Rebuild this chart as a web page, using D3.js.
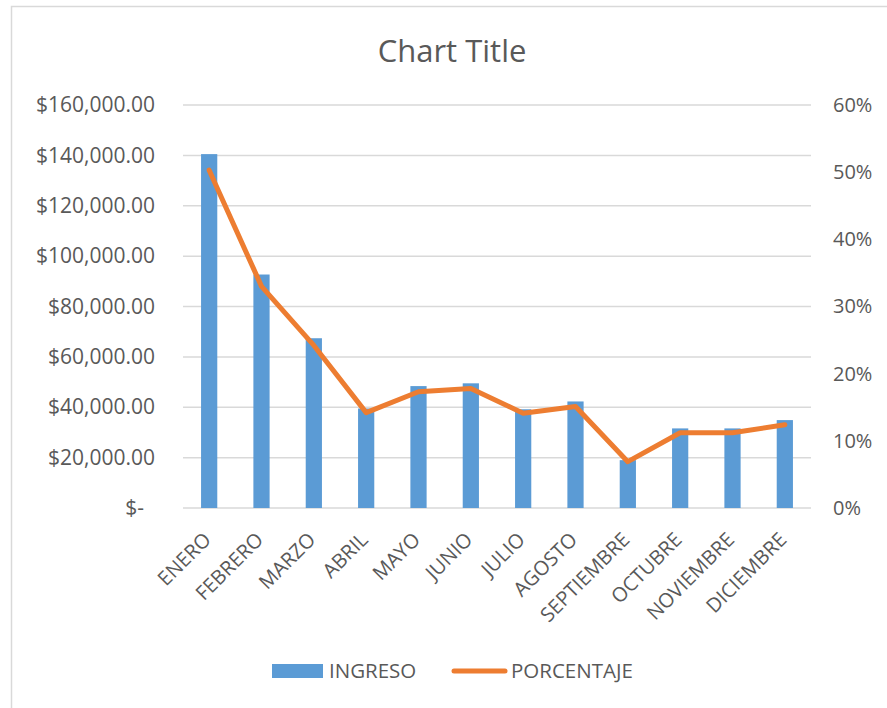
<!DOCTYPE html>
<html><head><meta charset="utf-8">
<script src="https://cdn.jsdelivr.net/npm/d3@7/dist/d3.min.js"></script>
<style>body{margin:0;background:#fff;} svg{display:block;font-family:"Open Sans",sans-serif;}</style>
</head><body>
<svg id="c" width="887" height="708"></svg>
<script>
const months = ["ENERO","FEBRERO","MARZO","ABRIL","MAYO","JUNIO","JULIO","AGOSTO","SEPTIEMBRE","OCTUBRE","NOVIEMBRE","DICIEMBRE"];
const ingreso = [140500, 92700, 67400, 39500, 48400, 49500, 39200, 42300, 19000, 31600, 31600, 34900];
const porcentaje = [0.503, 0.330, 0.242, 0.142, 0.173, 0.178, 0.141, 0.151, 0.069, 0.112, 0.112, 0.124];
const leftTicks = [0, 20000, 40000, 60000, 80000, 100000, 120000, 140000, 160000];
const rightTicks = [0, 0.1, 0.2, 0.3, 0.4, 0.5, 0.6];
const seriesNames = ["INGRESO", "PORCENTAJE"];
const chartTitle = "Chart Title";

const svg = d3.select("#c");
const txt = "#595959";
const L = 183, R = 811, T = 105, B = 508;

svg.append("rect").attr("x", 11.5).attr("y", 6.5).attr("width", 900).attr("height", 720)
  .attr("fill", "#fff").attr("stroke", "#d9d9d9").attr("stroke-width", 1.5);

const x = d3.scaleBand().domain(months).range([L, R]).paddingInner(0.69).paddingOuter(0.345);
const xc = d => x(d) + x.bandwidth() / 2;
const y = d3.scaleLinear().domain([0, 160000]).range([B, T]);
const y2 = d3.scaleLinear().domain([0, 0.6]).range([B, T]);

// gridlines
svg.append("g").selectAll("line").data(leftTicks).join("line")
  .attr("x1", L).attr("x2", R).attr("y1", d => y(d)).attr("y2", d => y(d))
  .attr("stroke", "#d9d9d9").attr("stroke-width", 1.5);

// left axis
const fmtL = d => d === 0 ? "$-" : "$" + d3.format(",.2f")(d);
const gl = svg.append("g").attr("transform", `translate(${L - 28},0)`)
  .call(d3.axisLeft(y).tickValues(leftTicks).tickFormat(fmtL).tickSize(0).tickPadding(0));
gl.select(".domain").remove();
gl.selectAll("text").attr("fill", txt).style("font-size", "21px").style("font-family", "'Open Sans',sans-serif");
gl.selectAll(".tick").filter(d => d === 0).select("text").attr("dx", "-11");

// right axis
const gr = svg.append("g").attr("transform", `translate(${R + 22},0)`)
  .call(d3.axisRight(y2).tickValues(rightTicks).tickFormat(d3.format(".0%")).tickSize(0).tickPadding(0));
gr.select(".domain").remove();
gr.selectAll("text").attr("fill", txt).style("font-size", "20px").style("font-family", "'Open Sans',sans-serif");

// bars
svg.append("g").selectAll("rect").data(months).join("rect")
  .attr("x", d => x(d)).attr("width", x.bandwidth())
  .attr("y", (d, i) => y(ingreso[i])).attr("height", (d, i) => B - y(ingreso[i]))
  .attr("fill", "#5b9bd5");

// line
const line = d3.line().x((d, i) => xc(months[i])).y(d => y2(d));
svg.append("path").datum(porcentaje).attr("d", line)
  .attr("fill", "none").attr("stroke", "#ed7d31").attr("stroke-width", 5)
  .attr("stroke-linejoin", "round").attr("stroke-linecap", "round");

// x labels
const gx = svg.append("g").attr("transform", `translate(0,${B})`)
  .call(d3.axisBottom(x).tickSize(0).tickPadding(0));
gx.select(".domain").remove();
gx.selectAll("text").attr("fill", txt).style("font-size", "20px").style("font-family", "'Open Sans',sans-serif")
  .attr("text-anchor", "end").attr("y", 0).attr("dy", 0)
  .attr("transform", "translate(3,33) rotate(-45)");

// title
svg.append("text").attr("x", 452).attr("y", 62).attr("text-anchor", "middle")
  .attr("fill", txt).style("font-size", "31px").text(chartTitle);

// legend
const lg = svg.append("g");
lg.append("rect").attr("x", 272).attr("y", 664).attr("width", 51).attr("height", 14).attr("fill", "#5b9bd5");
lg.append("text").attr("x", 329).attr("y", 678).attr("fill", txt).style("font-size", "20.5px").text(seriesNames[0]);
lg.append("line").attr("x1", 454).attr("x2", 505).attr("y1", 671).attr("y2", 671)
  .attr("stroke", "#ed7d31").attr("stroke-width", 5).attr("stroke-linecap", "round");
lg.append("text").attr("x", 511).attr("y", 678).attr("fill", txt).style("font-size", "20.5px").text(seriesNames[1]);
</script>
</body></html>
